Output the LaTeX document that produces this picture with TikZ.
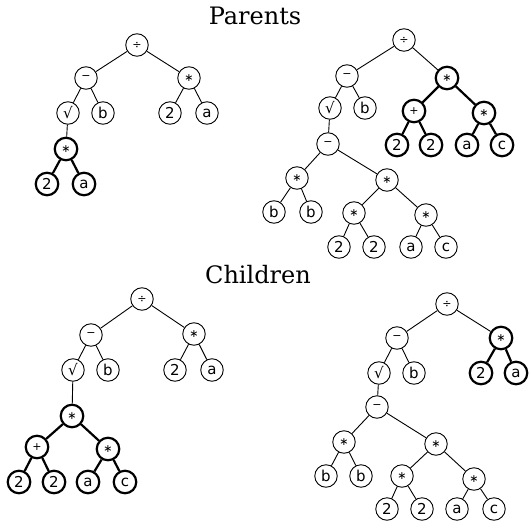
\documentclass[tikz,border=0pt]{standalone}
\usepackage{fontspec}
\setmainfont{DejaVu Serif}
\newfontfamily\nodefont{DejaVu Sans}

\tikzset{vertex/.style={circle,draw,line width=0.9pt,minimum size=22.5pt,inner sep=0pt,font=\nodefont\fontsize{15}{15}\selectfont},
heavy vertex/.style={vertex,line width=2.2pt},
op/.style={font=\nodefont\fontsize{11}{11}\selectfont},
branch/.style={line width=0.9pt},
heavy branch/.style={line width=2.2pt},
title/.style={font=\fontsize{24}{24}\selectfont,anchor=base,inner sep=0pt}}

\begin{document}
\begin{tikzpicture}[x=1pt,y=-1pt]
\useasboundingbox (0,0) rectangle (529,529);

%% titles
\node [title] (tparents) at (255,25) {Parents};
\node [title] (tchildren) at (258,283) {Children};

%% parent, left
\node [vertex,op] (pl1) at (137,45) {÷};
\node [vertex,op] (pl2) at (86,78) {−};
\node [vertex,op] (pl3) at (189,78) {∗};
\node [vertex] (pl4) at (68,113) {√};
\node [vertex] (pl5) at (103,113) {b};
\node [vertex] (pl6) at (170,113) {2};
\node [vertex] (pl7) at (207,113) {a};
\node [heavy vertex,op] (pl8) at (66,149) {∗};
\node [heavy vertex] (pl9) at (47,184) {2};
\node [heavy vertex] (pl10) at (84,184) {a};

\draw [branch] (pl1) -- (pl2) (pl1) -- (pl3) (pl2) -- (pl4) (pl2) -- (pl5)
  (pl3) -- (pl6) (pl3) -- (pl7) (pl4) -- (pl8);
\draw [heavy branch] (pl8) -- (pl9) (pl8) -- (pl10);

%% parent, right
\node [vertex,op] (pr1) at (404,40) {÷};
\node [vertex,op] (pr2) at (347,76) {−};
\node [heavy vertex,op] (pr3) at (447,78) {∗};
\node [vertex] (pr4) at (330,108) {√};
\node [vertex] (pr5) at (365,108) {b};
\node [heavy vertex,op] (pr6) at (414,111) {+};
\node [heavy vertex,op] (pr7) at (484,113) {∗};
\node [heavy vertex] (pr8) at (397,145) {2};
\node [heavy vertex] (pr9) at (431,145) {2};
\node [heavy vertex] (pr10) at (467,145) {a};
\node [heavy vertex] (pr11) at (502,145) {c};
\node [vertex,op] (pr12) at (328,144) {−};
\node [vertex,op] (pr13) at (297,178) {∗};
\node [vertex,op] (pr14) at (387,180) {∗};
\node [vertex] (pr15) at (274,212) {b};
\node [vertex] (pr16) at (311,212) {b};
\node [vertex,op] (pr17) at (354,213) {∗};
\node [vertex,op] (pr18) at (426,215) {∗};
\node [vertex] (pr19) at (339,247) {2};
\node [vertex] (pr20) at (374,247) {2};
\node [vertex] (pr21) at (411,247) {a};
\node [vertex] (pr22) at (446,247) {c};

\draw [branch] (pr1) -- (pr2) (pr1) -- (pr3) (pr2) -- (pr4) (pr2) -- (pr5)
  (pr4) -- (pr12) (pr12) -- (pr13) (pr12) -- (pr14) (pr13) -- (pr15) (pr13) -- (pr16)
  (pr14) -- (pr17) (pr14) -- (pr18) (pr17) -- (pr19) (pr17) -- (pr20)
  (pr18) -- (pr21) (pr18) -- (pr22);
\draw [heavy branch] (pr3) -- (pr6) (pr3) -- (pr7) (pr6) -- (pr8) (pr6) -- (pr9)
  (pr7) -- (pr10) (pr7) -- (pr11);

%% child, left
\node [vertex,op] (cl1) at (142,299) {÷};
\node [vertex,op] (cl2) at (91,335) {−};
\node [vertex,op] (cl3) at (194,334) {∗};
\node [vertex] (cl4) at (73,370) {√};
\node [vertex] (cl5) at (108,370) {b};
\node [vertex] (cl6) at (175,370) {2};
\node [vertex] (cl7) at (212,370) {a};
\node [heavy vertex,op] (cl8) at (72,416) {∗};
\node [heavy vertex,op] (cl9) at (37,447) {+};
\node [heavy vertex,op] (cl10) at (108,449) {∗};
\node [heavy vertex] (cl11) at (19,482) {2};
\node [heavy vertex] (cl12) at (54,482) {2};
\node [heavy vertex] (cl13) at (88,482) {a};
\node [heavy vertex] (cl14) at (125,482) {c};

\draw [branch] (cl1) -- (cl2) (cl1) -- (cl3) (cl2) -- (cl4) (cl2) -- (cl5)
  (cl3) -- (cl6) (cl3) -- (cl7) (cl4) -- (cl8);
\draw [heavy branch] (cl8) -- (cl9) (cl8) -- (cl10) (cl9) -- (cl11) (cl9) -- (cl12)
  (cl10) -- (cl13) (cl10) -- (cl14);

%% child, right
\node [vertex,op] (cr1) at (447,304) {÷};
\node [vertex,op] (cr2) at (397,338) {−};
\node [heavy vertex,op] (cr3) at (501,338) {∗};
\node [vertex] (cr4) at (379,373) {√};
\node [vertex] (cr5) at (414,373) {b};
\node [heavy vertex] (cr6) at (481,373) {2};
\node [heavy vertex] (cr7) at (516,373) {a};
\node [vertex,op] (cr8) at (377,407) {−};
\node [vertex,op] (cr9) at (344,442) {∗};
\node [vertex,op] (cr10) at (436,444) {∗};
\node [vertex] (cr11) at (326,476) {b};
\node [vertex] (cr12) at (361,476) {b};
\node [vertex,op] (cr13) at (402,476) {∗};
\node [vertex,op] (cr14) at (474,479) {∗};
\node [vertex] (cr15) at (387,509) {2};
\node [vertex] (cr16) at (422,509) {2};
\node [vertex] (cr17) at (457,509) {a};
\node [vertex] (cr18) at (494,509) {c};

\draw [branch] (cr1) -- (cr2) (cr1) -- (cr3) (cr2) -- (cr4) (cr2) -- (cr5)
  (cr4) -- (cr8) (cr8) -- (cr9) (cr8) -- (cr10) (cr9) -- (cr11) (cr9) -- (cr12)
  (cr10) -- (cr13) (cr10) -- (cr14) (cr13) -- (cr15) (cr13) -- (cr16)
  (cr14) -- (cr17) (cr14) -- (cr18);
\draw [heavy branch] (cr3) -- (cr6) (cr3) -- (cr7);

\end{tikzpicture}
\end{document}
